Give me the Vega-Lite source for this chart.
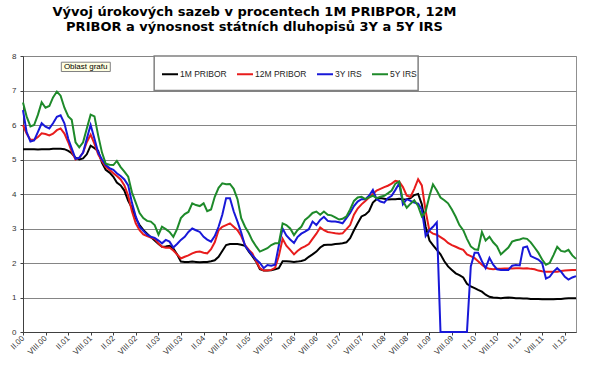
{
  "$schema": "https://vega.github.io/schema/vega-lite/v6.json",
  "width": 553,
  "height": 276,
  "autosize": "none",
  "padding": {"left": 23, "top": 56, "right": 34, "bottom": 41},
  "background": "white",
  "config": {
    "font": "Liberation Sans",
    "view": {"stroke": "#909090", "strokeWidth": 1}
  },
  "title": {
    "text": ["Vývoj úrokových sazeb v procentech 1M PRIBPOR, 12M", "PRIBOR a výnosnost státních dluhopisů 3Y a 5Y IRS"],
    "font": "DejaVu Sans",
    "fontSize": 13,
    "fontWeight": "bold",
    "color": "#000000",
    "lineHeight": 15,
    "anchor": "middle",
    "dx": -45,
    "offset": 18
  },
  "encoding": {
    "x": {
      "field": "d",
      "type": "temporal",
      "scale": {
        "type": "utc",
        "domain": [
          {"year": 2000, "month": 2, "date": 1, "utc": true},
          {"year": 2012, "month": 5, "date": 1, "utc": true}
        ]
      },
      "axis": {
        "title": null,
        "grid": false,
        "values": [
          {"year": 2000, "month": 2, "date": 1, "utc": true},
          {"year": 2000, "month": 8, "date": 1, "utc": true},
          {"year": 2001, "month": 2, "date": 1, "utc": true},
          {"year": 2001, "month": 8, "date": 1, "utc": true},
          {"year": 2002, "month": 2, "date": 1, "utc": true},
          {"year": 2002, "month": 8, "date": 1, "utc": true},
          {"year": 2003, "month": 2, "date": 1, "utc": true},
          {"year": 2003, "month": 8, "date": 1, "utc": true},
          {"year": 2004, "month": 2, "date": 1, "utc": true},
          {"year": 2004, "month": 8, "date": 1, "utc": true},
          {"year": 2005, "month": 2, "date": 1, "utc": true},
          {"year": 2005, "month": 8, "date": 1, "utc": true},
          {"year": 2006, "month": 2, "date": 1, "utc": true},
          {"year": 2006, "month": 8, "date": 1, "utc": true},
          {"year": 2007, "month": 2, "date": 1, "utc": true},
          {"year": 2007, "month": 8, "date": 1, "utc": true},
          {"year": 2008, "month": 2, "date": 1, "utc": true},
          {"year": 2008, "month": 8, "date": 1, "utc": true},
          {"year": 2009, "month": 2, "date": 1, "utc": true},
          {"year": 2009, "month": 8, "date": 1, "utc": true},
          {"year": 2010, "month": 2, "date": 1, "utc": true},
          {"year": 2010, "month": 8, "date": 1, "utc": true},
          {"year": 2011, "month": 2, "date": 1, "utc": true},
          {"year": 2011, "month": 8, "date": 1, "utc": true},
          {"year": 2012, "month": 2, "date": 1, "utc": true}
        ],
        "labelExpr": "(utcmonth(datum.value) == 1 ? 'II.' : 'VIII.') + utcFormat(datum.value, '%y')",
        "labelAngle": -45,
        "labelAlign": "right",
        "labelBaseline": "middle",
        "labelFontSize": 8,
        "labelColor": "#333333",
        "labelPadding": 2,
        "labelOverlap": false,
        "labelFlush": false,
        "labelBound": false,
        "tickSize": 3,
        "tickColor": "#404040",
        "domainColor": "#404040"
      }
    },
    "y": {
      "field": "value",
      "type": "quantitative",
      "scale": {"domain": [0, 8], "nice": false},
      "axis": {
        "title": null,
        "values": [0, 1, 2, 3, 4, 5, 6, 7, 8],
        "labelOverlap": false,
        "grid": true,
        "gridColor": "#858585",
        "gridWidth": 1,
        "gridOpacity": 1,
        "domainColor": "#404040",
        "tickColor": "#404040",
        "tickSize": 3,
        "labelFontSize": 8,
        "labelColor": "#333333",
        "labelPadding": 4
      }
    }
  },
  "layer": [
    {
      "data": {
        "values": [
          {"d":"2000-02-01","a":5.30,"b":6.00,"c":6.43,"e":6.65},
          {"d":"2000-03-01","a":5.30,"b":5.75,"c":5.80,"e":6.25},
          {"d":"2000-04-01","a":5.30,"b":5.57,"c":5.52,"e":5.96},
          {"d":"2000-05-01","a":5.30,"b":5.57,"c":5.55,"e":6.00},
          {"d":"2000-06-01","a":5.29,"b":5.65,"c":5.80,"e":6.30},
          {"d":"2000-07-01","a":5.30,"b":5.76,"c":6.05,"e":6.66},
          {"d":"2000-08-01","a":5.30,"b":5.74,"c":5.95,"e":6.50},
          {"d":"2000-09-01","a":5.30,"b":5.70,"c":5.90,"e":6.55},
          {"d":"2000-10-01","a":5.31,"b":5.75,"c":6.05,"e":6.80},
          {"d":"2000-11-01","a":5.31,"b":5.85,"c":6.24,"e":6.97},
          {"d":"2000-12-01","a":5.31,"b":5.90,"c":6.28,"e":6.85},
          {"d":"2001-01-01","a":5.30,"b":5.75,"c":6.05,"e":6.50},
          {"d":"2001-02-01","a":5.25,"b":5.50,"c":5.60,"e":6.25},
          {"d":"2001-03-01","a":5.18,"b":5.23,"c":5.32,"e":6.15},
          {"d":"2001-04-01","a":5.05,"b":5.00,"c":5.02,"e":5.50},
          {"d":"2001-05-01","a":5.00,"b":5.05,"c":5.05,"e":5.35},
          {"d":"2001-06-01","a":5.03,"b":5.20,"c":5.20,"e":5.50},
          {"d":"2001-07-01","a":5.15,"b":5.50,"c":5.60,"e":5.90},
          {"d":"2001-08-01","a":5.40,"b":5.72,"c":6.00,"e":6.30},
          {"d":"2001-09-01","a":5.33,"b":5.45,"c":5.60,"e":6.25},
          {"d":"2001-10-01","a":5.25,"b":5.15,"c":5.20,"e":5.70},
          {"d":"2001-11-01","a":4.90,"b":4.95,"c":5.00,"e":5.20},
          {"d":"2001-12-01","a":4.70,"b":4.79,"c":4.84,"e":4.88},
          {"d":"2002-01-01","a":4.62,"b":4.70,"c":4.75,"e":4.85},
          {"d":"2002-02-01","a":4.50,"b":4.60,"c":4.70,"e":4.84},
          {"d":"2002-03-01","a":4.33,"b":4.52,"c":4.60,"e":4.96},
          {"d":"2002-04-01","a":4.25,"b":4.42,"c":4.52,"e":4.78},
          {"d":"2002-05-01","a":4.10,"b":4.25,"c":4.42,"e":4.65},
          {"d":"2002-06-01","a":3.80,"b":3.95,"c":4.25,"e":4.50},
          {"d":"2002-07-01","a":3.60,"b":3.50,"c":3.75,"e":4.05},
          {"d":"2002-08-01","a":3.30,"b":3.15,"c":3.35,"e":3.75},
          {"d":"2002-09-01","a":3.10,"b":2.95,"c":3.05,"e":3.45},
          {"d":"2002-10-01","a":2.96,"b":2.83,"c":2.93,"e":3.30},
          {"d":"2002-11-01","a":2.85,"b":2.78,"c":2.82,"e":3.22},
          {"d":"2002-12-01","a":2.75,"b":2.74,"c":2.76,"e":3.20},
          {"d":"2003-01-01","a":2.65,"b":2.70,"c":2.73,"e":3.10},
          {"d":"2003-02-01","a":2.55,"b":2.57,"c":2.65,"e":2.82},
          {"d":"2003-03-01","a":2.47,"b":2.47,"c":2.57,"e":3.05},
          {"d":"2003-04-01","a":2.48,"b":2.44,"c":2.67,"e":2.98},
          {"d":"2003-05-01","a":2.50,"b":2.45,"c":2.62,"e":2.90},
          {"d":"2003-06-01","a":2.42,"b":2.36,"c":2.45,"e":2.76},
          {"d":"2003-07-01","a":2.25,"b":2.25,"c":2.55,"e":2.98},
          {"d":"2003-08-01","a":2.04,"b":2.13,"c":2.67,"e":3.30},
          {"d":"2003-09-01","a":2.03,"b":2.18,"c":2.76,"e":3.42},
          {"d":"2003-10-01","a":2.03,"b":2.22,"c":2.90,"e":3.48},
          {"d":"2003-11-01","a":2.04,"b":2.28,"c":3.00,"e":3.73},
          {"d":"2003-12-01","a":2.03,"b":2.32,"c":2.95,"e":3.68},
          {"d":"2004-01-01","a":2.02,"b":2.33,"c":2.90,"e":3.65},
          {"d":"2004-02-01","a":2.03,"b":2.30,"c":2.76,"e":3.73},
          {"d":"2004-03-01","a":2.03,"b":2.28,"c":2.68,"e":3.50},
          {"d":"2004-04-01","a":2.05,"b":2.40,"c":2.62,"e":3.55},
          {"d":"2004-05-01","a":2.08,"b":2.60,"c":2.78,"e":3.92},
          {"d":"2004-06-01","a":2.18,"b":2.95,"c":3.05,"e":4.18},
          {"d":"2004-07-01","a":2.35,"b":3.05,"c":3.40,"e":4.31},
          {"d":"2004-08-01","a":2.52,"b":3.10,"c":3.88,"e":4.28},
          {"d":"2004-09-01","a":2.55,"b":3.15,"c":3.88,"e":4.29},
          {"d":"2004-10-01","a":2.55,"b":3.05,"c":3.50,"e":4.15},
          {"d":"2004-11-01","a":2.55,"b":2.95,"c":3.20,"e":3.85},
          {"d":"2004-12-01","a":2.53,"b":2.78,"c":2.88,"e":3.30},
          {"d":"2005-01-01","a":2.50,"b":2.52,"c":2.50,"e":3.05},
          {"d":"2005-02-01","a":2.33,"b":2.38,"c":2.35,"e":2.86},
          {"d":"2005-03-01","a":2.20,"b":2.28,"c":2.22,"e":2.65},
          {"d":"2005-04-01","a":2.04,"b":2.05,"c":2.10,"e":2.48},
          {"d":"2005-05-01","a":1.82,"b":1.85,"c":2.00,"e":2.33},
          {"d":"2005-06-01","a":1.78,"b":1.78,"c":1.85,"e":2.38},
          {"d":"2005-07-01","a":1.78,"b":1.78,"c":1.94,"e":2.43},
          {"d":"2005-08-01","a":1.79,"b":1.80,"c":1.92,"e":2.52},
          {"d":"2005-09-01","a":1.82,"b":1.86,"c":1.95,"e":2.57},
          {"d":"2005-10-01","a":1.85,"b":2.20,"c":2.50,"e":2.57},
          {"d":"2005-11-01","a":2.05,"b":2.70,"c":3.00,"e":3.15},
          {"d":"2005-12-01","a":2.05,"b":2.50,"c":2.80,"e":3.10},
          {"d":"2006-01-01","a":2.04,"b":2.38,"c":2.68,"e":3.00},
          {"d":"2006-02-01","a":2.03,"b":2.25,"c":2.58,"e":2.81},
          {"d":"2006-03-01","a":2.04,"b":2.35,"c":2.75,"e":2.95},
          {"d":"2006-04-01","a":2.06,"b":2.43,"c":2.85,"e":3.05},
          {"d":"2006-05-01","a":2.09,"b":2.48,"c":2.91,"e":3.25},
          {"d":"2006-06-01","a":2.18,"b":2.55,"c":2.98,"e":3.34},
          {"d":"2006-07-01","a":2.25,"b":2.70,"c":3.20,"e":3.45},
          {"d":"2006-08-01","a":2.33,"b":2.85,"c":3.10,"e":3.49},
          {"d":"2006-09-01","a":2.45,"b":3.03,"c":3.25,"e":3.40},
          {"d":"2006-10-01","a":2.52,"b":2.95,"c":3.34,"e":3.49},
          {"d":"2006-11-01","a":2.53,"b":2.90,"c":3.22,"e":3.40},
          {"d":"2006-12-01","a":2.53,"b":2.88,"c":3.20,"e":3.38},
          {"d":"2007-01-01","a":2.55,"b":2.86,"c":3.20,"e":3.32},
          {"d":"2007-02-01","a":2.56,"b":2.85,"c":3.18,"e":3.26},
          {"d":"2007-03-01","a":2.57,"b":2.86,"c":3.15,"e":3.28},
          {"d":"2007-04-01","a":2.60,"b":2.98,"c":3.30,"e":3.35},
          {"d":"2007-05-01","a":2.72,"b":3.10,"c":3.45,"e":3.55},
          {"d":"2007-06-01","a":2.95,"b":3.40,"c":3.65,"e":3.80},
          {"d":"2007-07-01","a":3.15,"b":3.58,"c":3.78,"e":3.90},
          {"d":"2007-08-01","a":3.35,"b":3.70,"c":3.85,"e":3.92},
          {"d":"2007-09-01","a":3.40,"b":3.80,"c":3.85,"e":3.85},
          {"d":"2007-10-01","a":3.50,"b":3.90,"c":3.95,"e":3.90},
          {"d":"2007-11-01","a":3.75,"b":4.00,"c":4.12,"e":3.95},
          {"d":"2007-12-01","a":3.85,"b":4.10,"c":3.85,"e":3.88},
          {"d":"2008-01-01","a":3.88,"b":4.15,"c":3.78,"e":3.92},
          {"d":"2008-02-01","a":3.86,"b":4.20,"c":3.75,"e":3.95},
          {"d":"2008-03-01","a":3.84,"b":4.24,"c":3.88,"e":4.02},
          {"d":"2008-04-01","a":3.85,"b":4.30,"c":3.95,"e":4.10},
          {"d":"2008-05-01","a":3.85,"b":4.38,"c":4.12,"e":4.30},
          {"d":"2008-06-01","a":3.86,"b":4.36,"c":4.31,"e":4.36},
          {"d":"2008-07-01","a":3.84,"b":4.20,"c":3.70,"e":3.80},
          {"d":"2008-08-01","a":3.85,"b":3.95,"c":3.85,"e":3.60},
          {"d":"2008-09-01","a":3.88,"b":3.92,"c":3.80,"e":3.72},
          {"d":"2008-10-01","a":3.97,"b":4.15,"c":3.75,"e":3.82},
          {"d":"2008-11-01","a":4.00,"b":4.43,"c":3.72,"e":3.65},
          {"d":"2008-12-01","a":3.70,"b":4.25,"c":3.55,"e":3.35},
          {"d":"2009-01-01","a":3.05,"b":3.50,"c":2.78,"e":3.50},
          {"d":"2009-02-01","a":2.65,"b":2.92,"c":2.95,"e":3.95},
          {"d":"2009-03-01","a":2.52,"b":2.85,"c":3.05,"e":4.28},
          {"d":"2009-04-01","a":2.38,"b":2.82,"c":3.18,"e":4.10},
          {"d":"2009-05-01","a":2.25,"b":2.75,"c":0,"e":3.90},
          {"d":"2009-06-01","a":2.05,"b":2.68,"c":0,"e":3.82},
          {"d":"2009-07-01","a":1.90,"b":2.58,"c":0,"e":3.73},
          {"d":"2009-08-01","a":1.80,"b":2.52,"c":0,"e":3.55},
          {"d":"2009-09-01","a":1.70,"b":2.47,"c":0,"e":3.34},
          {"d":"2009-10-01","a":1.65,"b":2.42,"c":0,"e":3.10},
          {"d":"2009-11-01","a":1.58,"b":2.38,"c":0,"e":2.95},
          {"d":"2009-12-01","a":1.40,"b":2.25,"c":0,"e":2.70},
          {"d":"2010-01-01","a":1.32,"b":2.20,"c":1.90,"e":2.48},
          {"d":"2010-02-01","a":1.27,"b":2.14,"c":2.30,"e":2.40},
          {"d":"2010-03-01","a":1.22,"b":2.05,"c":2.30,"e":2.38},
          {"d":"2010-04-01","a":1.17,"b":1.95,"c":2.05,"e":2.90},
          {"d":"2010-05-01","a":1.08,"b":1.87,"c":1.85,"e":2.65},
          {"d":"2010-06-01","a":1.02,"b":1.83,"c":2.15,"e":2.76},
          {"d":"2010-07-01","a":1.00,"b":1.82,"c":1.95,"e":2.60},
          {"d":"2010-08-01","a":0.99,"b":1.83,"c":1.82,"e":2.48},
          {"d":"2010-09-01","a":0.98,"b":1.83,"c":1.80,"e":2.25},
          {"d":"2010-10-01","a":0.99,"b":1.84,"c":1.80,"e":2.35},
          {"d":"2010-11-01","a":1.00,"b":1.84,"c":1.80,"e":2.45},
          {"d":"2010-12-01","a":0.99,"b":1.84,"c":1.92,"e":2.62},
          {"d":"2011-01-01","a":0.98,"b":1.85,"c":1.94,"e":2.66},
          {"d":"2011-02-01","a":0.98,"b":1.85,"c":1.93,"e":2.68},
          {"d":"2011-03-01","a":0.97,"b":1.84,"c":2.45,"e":2.72},
          {"d":"2011-04-01","a":0.97,"b":1.85,"c":2.48,"e":2.70},
          {"d":"2011-05-01","a":0.96,"b":1.83,"c":2.20,"e":2.60},
          {"d":"2011-06-01","a":0.96,"b":1.82,"c":2.15,"e":2.45},
          {"d":"2011-07-01","a":0.96,"b":1.78,"c":2.10,"e":2.30},
          {"d":"2011-08-01","a":0.95,"b":1.76,"c":2.00,"e":2.10},
          {"d":"2011-09-01","a":0.95,"b":1.75,"c":1.55,"e":1.95},
          {"d":"2011-10-01","a":0.95,"b":1.75,"c":1.60,"e":2.00},
          {"d":"2011-11-01","a":0.95,"b":1.75,"c":1.75,"e":2.23},
          {"d":"2011-12-01","a":0.96,"b":1.75,"c":1.85,"e":2.47},
          {"d":"2012-01-01","a":0.96,"b":1.77,"c":1.75,"e":2.35},
          {"d":"2012-02-01","a":0.97,"b":1.78,"c":1.60,"e":2.33},
          {"d":"2012-03-01","a":0.98,"b":1.79,"c":1.52,"e":2.38},
          {"d":"2012-04-01","a":0.98,"b":1.80,"c":1.58,"e":2.22},
          {"d":"2012-05-01","a":0.98,"b":1.80,"c":1.62,"e":2.12}
        ]
      },
      "transform": [{"fold": ["a", "b", "c", "e"], "as": ["key", "value"]}],
      "mark": {"type": "line", "strokeWidth": 2, "interpolate": "linear"},
      "encoding": {
        "color": {
          "field": "key",
          "type": "nominal",
          "scale": {"domain": ["a", "b", "c", "e"], "range": ["#000000", "#e81c1c", "#1818d8", "#1e8a2a"]},
          "legend": {
            "title": null,
            "orient": "none",
            "legendX": 138,
            "legendY": 9,
            "direction": "horizontal",
            "padding": 0,
            "symbolType": "stroke",
            "symbolStrokeWidth": 2,
            "symbolSize": 256,
            "labelFont": "Liberation Sans",
            "labelFontSize": 8.5,
            "labelColor": "#222222",
            "labelOffset": 1,
            "columnPadding": 6,
            "labelExpr": "datum.label == 'a' ? '1M PRIBOR' : datum.label == 'b' ? '12M PRIBOR' : datum.label == 'c' ? '3Y IRS' : '5Y IRS'"
          }
        }
      }
    },
    {
      "data": {"values": [{"d": "2002-12-28", "d2": "2008-11-01", "value": 7, "value2": 8}]},
      "mark": {"type": "rect", "fill": "#ffffff", "stroke": "#808080", "strokeWidth": 1.5},
      "encoding": {
        "x2": {"field": "d2"},
        "y2": {"field": "value2"}
      }
    },
    {
      "data": {"values": [{"d": "2000-12-07", "d2": "2002-01-07", "value": 7.55, "value2": 7.82}]},
      "mark": {"type": "rect", "fill": "#ffffe1", "stroke": "#808080", "strokeWidth": 1},
      "encoding": {
        "x2": {"field": "d2"},
        "y2": {"field": "value2"}
      }
    },
    {
      "data": {"values": [{"d": "2001-06-22", "value": 7.685, "label": "Oblast grafu"}]},
      "mark": {"type": "text", "fontSize": 8, "color": "#000000", "font": "Liberation Sans", "baseline": "middle", "align": "center"},
      "encoding": {
        "text": {"field": "label"}
      }
    }
  ]
}
